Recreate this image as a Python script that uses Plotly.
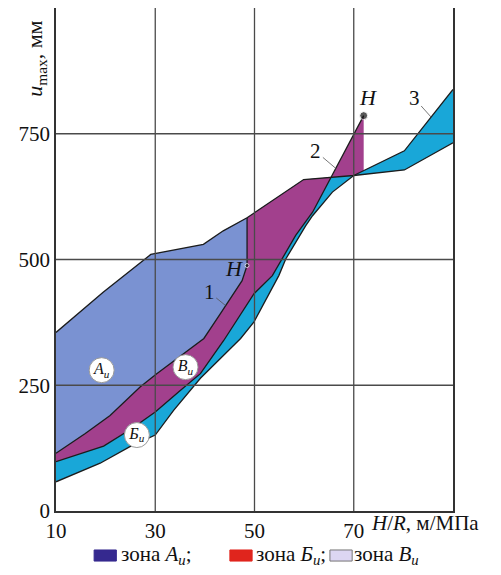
import numpy as np
import plotly.graph_objects as go

# ---------------- data ----------------
# curve 1: upper edge of the middle (magenta) band, ends at H'
line1_x = [10, 15.9, 20.9, 27.0, 30.3, 39.8, 43.1, 47.5, 48.5]
line1_y = [115, 154, 190, 247, 273, 343, 392, 458, 488]
# curve 2: lower edge of the magenta band, ends at H
line2_x = [10, 19.6, 25.3, 30.0, 35.1, 39.1, 43.8, 49.9, 53.6, 55.6, 58.3, 61.7, 65.4, 72.0]
line2_y = [98, 129, 164, 197, 240, 273, 339, 432, 468, 501, 548, 594, 662, 786]
# curve 3: lower edge of the cyan band (upper edge at the right)
line3_x = [10, 18.9, 24.9, 30.0, 33.7, 39.1, 47.2, 49.9, 54.9, 56.3, 60.3, 61.7, 65.7, 70.0, 80.2, 90]
line3_y = [58, 95, 128, 151, 200, 264, 343, 376, 468, 501, 567, 587, 634, 667, 716, 838]
# upper envelope (top of zone A, continues as lower edge of cyan band)
env_x = [10, 19.5, 29.1, 39.7, 43.7, 48.5, 59.9, 70.0, 80.2, 90]
env_y = [355, 435, 510, 530, 557, 583, 659, 667, 678, 732]

x_ticks = [10, 30, 50, 70]
y_ticks = [0, 250, 500, 750]

zone_labels = ["<i>A<sub>и</sub></i>", "<i>В<sub>и</sub></i>", "<i>Б<sub>и</sub></i>"]
zone_label_x = [19.2, 36.1, 26.3]
zone_label_y = [280, 286, 151]

curve_names = ["1", "2", "3"]
curve_tip_x = [44.1, 66.4, 85.6]
curve_tip_y = [409, 681, 783]
curve_text_dx = [-16, -20, -17]
curve_text_dy = [-13, -17, -19]

legend_names = ["зона <i>A<sub>и</sub></i>;", "зона <i>Б<sub>и</sub></i>;", "зона <i>В<sub>и</sub></i>"]
legend_colors = ["#35298f", "#e0251d", "#dcd6f2"]

C_A = "#7a92d2"
C_MAG = "#a2408d"
C_CYAN = "#19a7d8"
OUT = "#1c1c1c"
FONT = "Liberation Serif"

# ---------------- build polygons ----------------
hx, hy = line2_x[-1], line2_y[-1]           # point H
hpx, hpy = line1_x[-1], line1_y[-1]         # point H'
l3_at_h = float(np.interp(hx, line3_x, line3_y))
i_h1 = env_x.index(hpx)
i_70 = env_x.index(70.0)

cyan_x = line3_x + env_x[::-1]
cyan_y = line3_y + env_y[::-1]

mag_x = line1_x + env_x[i_h1:i_70 + 1] + [hx] + line2_x[::-1]
mag_y = line1_y + env_y[i_h1:i_70 + 1] + [l3_at_h] + line2_y[::-1]

a_x = env_x[:i_h1 + 1] + line1_x[::-1]
a_y = env_y[:i_h1 + 1] + line1_y[::-1]

fig = go.Figure()
for px_, py_, col in [(cyan_x, cyan_y, C_CYAN), (mag_x, mag_y, C_MAG), (a_x, a_y, C_A)]:
    fig.add_trace(go.Scatter(x=px_, y=py_, fill="toself", fillcolor=col, mode="lines",
                             line=dict(width=0, color=col), hoverinfo="skip", showlegend=False))

for lx, ly in [(line1_x, line1_y), (line2_x, line2_y), (line3_x, line3_y), (env_x, env_y),
               ([hpx, hpx], [hpy, env_y[i_h1]])]:
    fig.add_trace(go.Scatter(x=lx, y=ly, mode="lines", line=dict(color=OUT, width=1.3),
                             hoverinfo="skip", showlegend=False))

# points H and H'
fig.add_trace(go.Scatter(x=[hx, hpx], y=[hy, hpy], mode="markers",
                         marker=dict(color="#111", size=[8, 4]), hoverinfo="skip", showlegend=False))

# zone circle labels
fig.add_trace(go.Scatter(x=zone_label_x, y=zone_label_y, mode="markers+text", text=zone_labels,
                         textposition="middle center",
                         textfont=dict(family=FONT, size=16, color="#111"),
                         marker=dict(size=25, color="white", line=dict(color="#999", width=1)),
                         hoverinfo="skip", showlegend=False))

# grid lines drawn above the filled zones
shapes = []
for xv in x_ticks[1:]:
    shapes.append(dict(type="line", xref="x", yref="paper", x0=xv, x1=xv, y0=0, y1=1,
                       line=dict(color="#4a4a4a", width=1.3), layer="above"))
for yv in y_ticks[1:]:
    shapes.append(dict(type="line", xref="paper", yref="y", x0=0, x1=1, y0=yv, y1=yv,
                       line=dict(color="#4a4a4a", width=1.3), layer="above"))

# legend boxes (paper coords) below plot
leg_box_x = [0.096, 0.438, 0.690]
leg_txt_x = [0.158, 0.499, 0.746]
for bx, col in zip(leg_box_x, legend_colors):
    shapes.append(dict(type="rect", xref="paper", yref="paper", x0=bx, x1=bx + 0.056,
                       y0=-0.0995, y1=-0.0775, fillcolor=col,
                       line=dict(color="#777" if col == legend_colors[2] else col, width=1)))

annotations = []
for tx, txt in zip(leg_txt_x, legend_names):
    annotations.append(dict(xref="paper", yref="paper", x=tx, y=-0.0875, xanchor="left",
                            yanchor="middle", text=txt, showarrow=False,
                            font=dict(family=FONT, size=21, color="#111")))

for nm, tx, ty, dx, dy in zip(curve_names, curve_tip_x, curve_tip_y, curve_text_dx, curve_text_dy):
    annotations.append(dict(x=tx, y=ty, xref="x", yref="y", text=nm, showarrow=True,
                            arrowhead=0, arrowwidth=0.8, arrowcolor="#555", ax=dx, ay=dy,
                            standoff=0, font=dict(family=FONT, size=21, color="#111")))

annotations.append(dict(x=hx, y=hy, xref="x", yref="y", text="<i>H</i>", showarrow=False,
                        yanchor="bottom", yshift=4, xshift=4,
                        font=dict(family=FONT, size=22, color="#111")))
annotations.append(dict(x=hpx, y=hpy, xref="x", yref="y", text="<i>H</i>", showarrow=False,
                        xanchor="right", yanchor="middle", xshift=-2, yshift=-3,
                        font=dict(family=FONT, size=22, color="#111")))

# axis titles
annotations.append(dict(xref="x", yref="paper", x=73.0, y=0, xanchor="left", yanchor="top",
                        yshift=2, text="<i>H</i>/<i>R</i>, м/МПа", showarrow=False,
                        font=dict(family=FONT, size=21, color="#111")))
annotations.append(dict(xref="paper", yref="paper", x=0, y=0.899, xanchor="center",
                        yanchor="middle", xshift=-20, textangle=-90,
                        text="<i>u</i><sub>max</sub>, мм", showarrow=False,
                        font=dict(family=FONT, size=22, color="#111")))

fig.update_layout(
    width=485, height=559,
    margin=dict(l=48, r=40, t=0, b=56),
    paper_bgcolor="white", plot_bgcolor="white",
    shapes=shapes, annotations=annotations,
    xaxis=dict(range=[10, 90], tickvals=x_ticks, ticktext=[str(v) for v in x_ticks],
               showgrid=False, zeroline=False, showline=True, linecolor="#333", linewidth=1.8,
               mirror=True, ticks="", tickfont=dict(family=FONT, size=21, color="#111"),
               layer="above traces", automargin=False),
    yaxis=dict(range=[0, 1000], tickvals=y_ticks, ticktext=[str(v) for v in y_ticks],
               showgrid=False, zeroline=False, showline=True, linecolor="#333", linewidth=1.8,
               mirror=True, ticks="", tickfont=dict(family=FONT, size=21, color="#111"),
               layer="above traces", automargin=False),
)

fig.write_html("out.html")
